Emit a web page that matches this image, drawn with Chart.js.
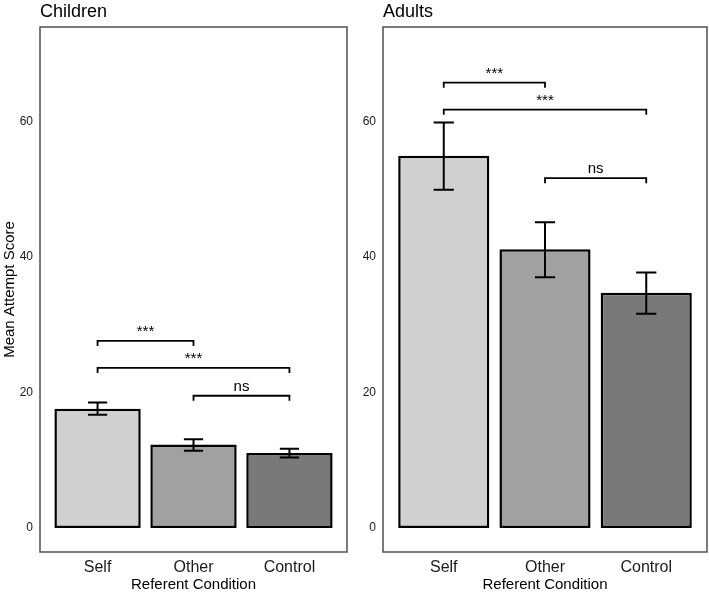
<!DOCTYPE html>
<html>
<head>
<meta charset="utf-8">
<script src="https://cdn.jsdelivr.net/npm/chart.js@4"></script>
<style>
  html, body { margin: 0; padding: 0; background: #fff; }
  #wrap { position: relative; width: 709px; height: 592px; }
  canvas { position: absolute; top: 0; }
  #children-chart { left: 0; }
  #adults-chart { left: 355px; }
</style>
</head>
<body>
<div id="wrap">
  <canvas id="children-chart" width="354" height="592"></canvas>
  <canvas id="adults-chart" width="354" height="592"></canvas>
</div>
<script>
const categories = ['Self', 'Other', 'Control'];
const yTicks = [0, 20, 40, 60];

const childMeans = [17.6, 12.3, 11.05];
const childErrLow = [16.7, 11.4, 10.4];
const childErrHigh = [18.5, 13.1, 11.7];

const adultMeans = [54.9, 41.1, 34.7];
const adultErrLow = [49.9, 37.0, 31.6];
const adultErrHigh = [59.8, 45.1, 37.7];

const comparisons = [[0, 1], [0, 2], [1, 2]];
const compLabels = ['***', '***', 'ns'];
const childBracketY = [27.6, 23.6, 19.5];
const adultBracketY = [65.7, 61.7, 51.6];

const barColors = ['#d0d0d0', '#a1a1a1', '#797979'];
const FONT = '"Liberation Sans", Arial, Helvetica, sans-serif';

Chart.defaults.font.family = FONT;
Chart.defaults.color = '#1a1a1a';

// error bars, significance brackets, panel box and panel title
const panelExtras = {
    id: 'panelExtras',
    afterDatasetsDraw(chart, args, opts) {
        const ctx = chart.ctx;
        const xs = chart.scales.x;
        const ys = chart.scales.y;
        ctx.save();
        ctx.strokeStyle = '#000';
        ctx.lineWidth = 2;
        opts.errLow.forEach((lo, i) => {
            const x = xs.getPixelForValue(i + 1);
            const x0 = xs.getPixelForValue(i + 0.9);
            const x1 = xs.getPixelForValue(i + 1.1);
            const yLo = ys.getPixelForValue(lo);
            const yHi = ys.getPixelForValue(opts.errHigh[i]);
            ctx.beginPath();
            ctx.moveTo(x, yLo); ctx.lineTo(x, yHi);
            ctx.moveTo(x0, yLo); ctx.lineTo(x1, yLo);
            ctx.moveTo(x0, yHi); ctx.lineTo(x1, yHi);
            ctx.stroke();
        });
        ctx.lineWidth = 1.8;
        ctx.fillStyle = '#000';
        ctx.textAlign = 'center';
        ctx.textBaseline = 'alphabetic';
        ctx.font = '15px ' + FONT;
        comparisons.forEach(([a, b], k) => {
            const xa = xs.getPixelForValue(a + 1);
            const xb = xs.getPixelForValue(b + 1);
            const y = ys.getPixelForValue(opts.bracketY[k]);
            const yTip = ys.getPixelForValue(opts.bracketY[k] - 0.75);
            ctx.beginPath();
            ctx.moveTo(xa, yTip); ctx.lineTo(xa, y);
            ctx.lineTo(xb, y); ctx.lineTo(xb, yTip);
            ctx.stroke();
            ctx.fillText(compLabels[k], (xa + xb) / 2, y - 5);
        });
        ctx.restore();
    },
    afterDraw(chart, args, opts) {
        const ctx = chart.ctx;
        const a = chart.chartArea;
        ctx.save();
        ctx.strokeStyle = '#505050';
        ctx.lineWidth = 1.5;
        ctx.strokeRect(a.left, a.top, a.right - a.left, a.bottom - a.top);
        ctx.fillStyle = '#000';
        ctx.font = '18px ' + FONT;
        ctx.textAlign = 'left';
        ctx.textBaseline = 'alphabetic';
        ctx.fillText(opts.title, a.left, 16.5);
        ctx.restore();
    }
};

function makePanel(id, title, means, errLow, errHigh, bracketY, yWidth, padRight, yTitle) {
    return new Chart(document.getElementById(id).getContext('2d'), {
        type: 'bar',
        data: {
            datasets: [{
                data: means.map((v, i) => ({ x: i + 1, y: v })),
                backgroundColor: barColors,
                borderColor: '#000',
                borderWidth: 2.5,
                borderSkipped: false,
                barPercentage: 1,
                categoryPercentage: 0.9
            }]
        },
        options: {
            responsive: false,
            animation: false,
            layout: { padding: { top: 27, right: padRight, left: 0, bottom: 0 } },
            plugins: {
                legend: { display: false },
                tooltip: { enabled: false },
                panelExtras: { title, errLow, errHigh, bracketY }
            },
            scales: {
                x: {
                    type: 'linear',
                    offset: false,
                    min: 0.4,
                    max: 3.6,
                    grid: { display: false, drawTicks: false, offset: false },
                    border: { display: false },
                    afterBuildTicks: (s) => { s.ticks = categories.map((c, i) => ({ value: i + 1 })); },
                    afterFit: (s) => { s.height = 40; },
                    ticks: {
                        padding: 6,
                        font: { size: 16 },
                        callback: (v) => categories[v - 1]
                    },
                    title: {
                        display: true,
                        text: 'Referent Condition',
                        color: '#000',
                        font: { size: 15, lineHeight: 1 },
                        padding: { top: 0, bottom: 0 }
                    }
                },
                y: {
                    min: -3.55,
                    max: 73.9,
                    grid: { display: false, drawTicks: false },
                    border: { display: false },
                    afterBuildTicks: (s) => { s.ticks = yTicks.map(v => ({ value: v })); },
                    afterFit: (s) => { s.width = yWidth; },
                    ticks: { padding: 7, font: { size: 12 } },
                    title: {
                        display: yTitle,
                        text: 'Mean Attempt Score',
                        color: '#000',
                        font: { size: 15, lineHeight: 1 },
                        padding: { top: 2.5, bottom: 0 }
                    }
                }
            }
        },
        plugins: [panelExtras]
    });
}

makePanel('children-chart', 'Children', childMeans, childErrLow, childErrHigh, childBracketY, 40, 7, true);
makePanel('adults-chart', 'Adults', adultMeans, adultErrLow, adultErrHigh, adultBracketY, 28, 2, false);
</script>
</body>
</html>
